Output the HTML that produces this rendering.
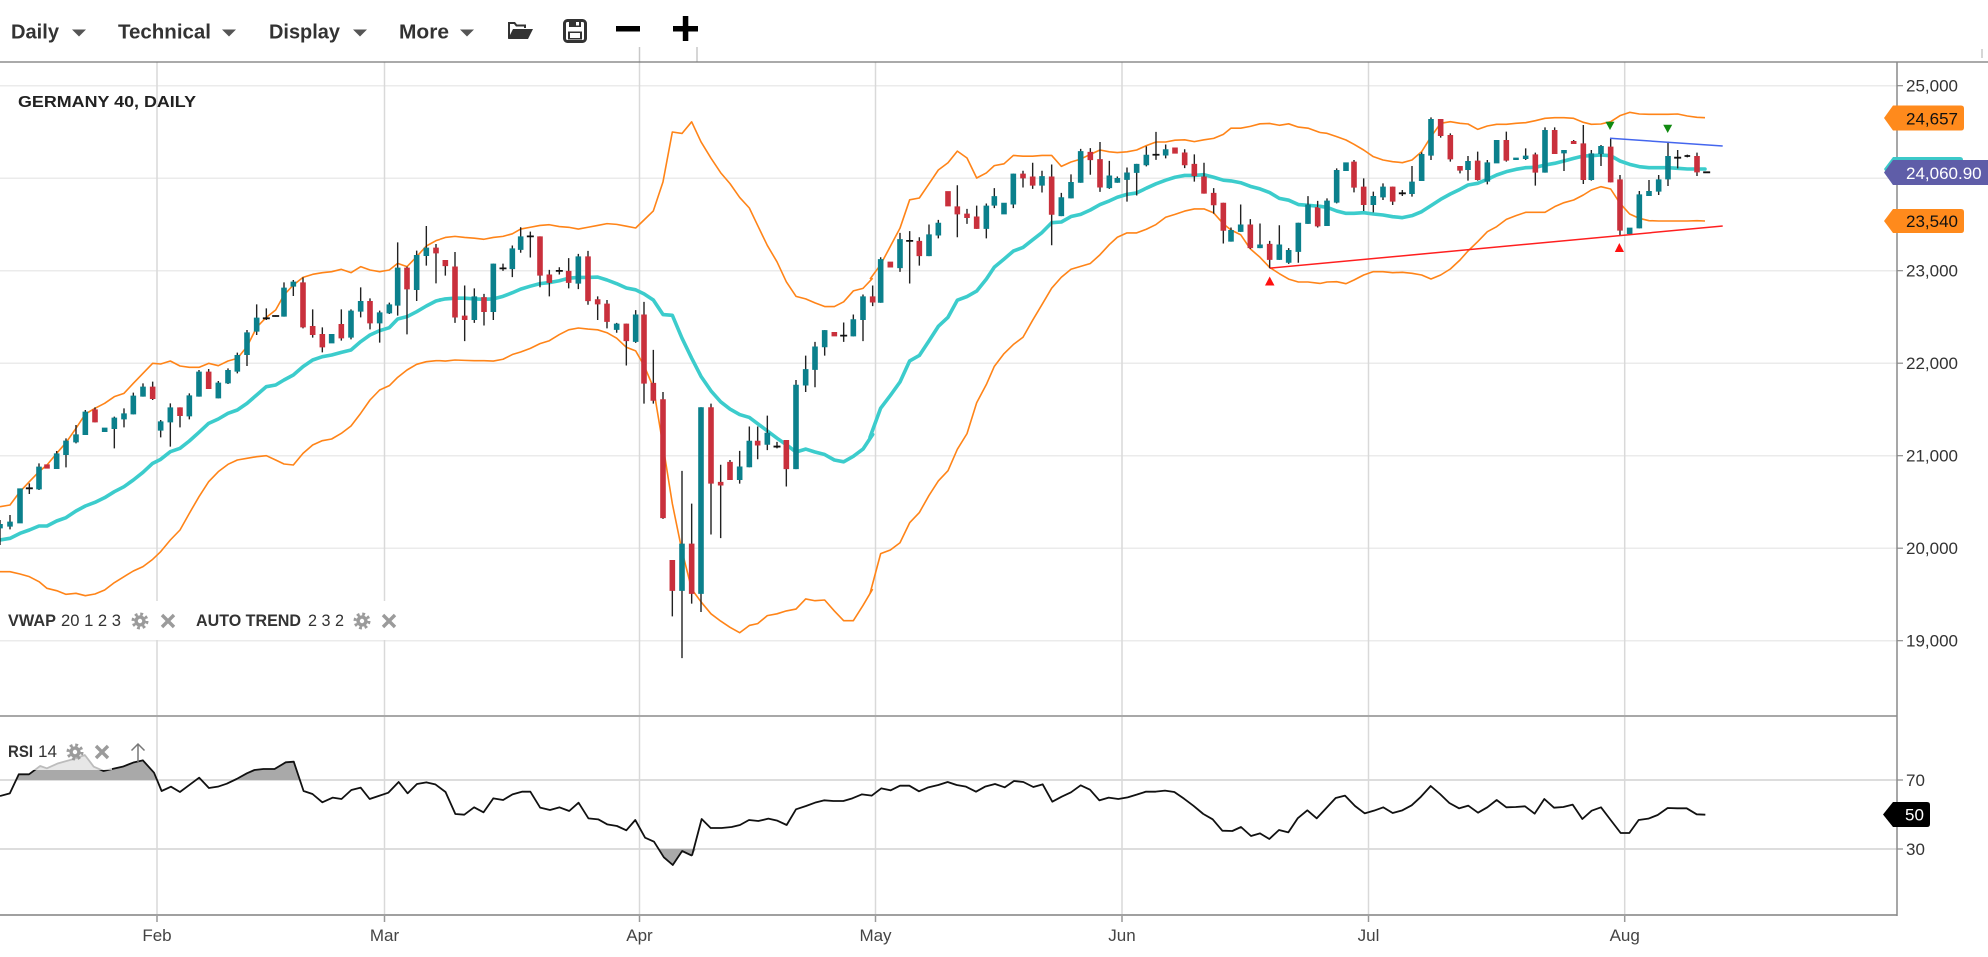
<!DOCTYPE html>
<html>
<head>
<meta charset="utf-8">
<style>
html,body{margin:0;padding:0;background:#fff;}
body{width:1988px;height:952px;overflow:hidden;}
svg text{font-family:"Liberation Sans",sans-serif;}
</style>
</head>
<body>
<svg width="1988" height="952" viewBox="0 0 1988 952" xmlns="http://www.w3.org/2000/svg">
<defs>
  <clipPath id="above"><rect x="0" y="700" width="1897" height="80"/></clipPath>
  <clipPath id="below"><rect x="0" y="849" width="1897" height="66"/></clipPath>
</defs>
<rect x="0" y="0" width="1988" height="952" fill="#fff"/>

<!-- toolbar -->
<g fill="#333" font-weight="bold" font-size="20">
  <text x="11" y="38.5" textLength="48" lengthAdjust="spacingAndGlyphs">Daily</text>
  <text x="118" y="38.5" textLength="93" lengthAdjust="spacingAndGlyphs">Technical</text>
  <text x="269" y="38.5" textLength="71" lengthAdjust="spacingAndGlyphs">Display</text>
  <text x="399" y="38.5" textLength="50" lengthAdjust="spacingAndGlyphs">More</text>
</g>
<g fill="#555">
  <polygon points="72,29.5 86,29.5 79,36.5"/>
  <polygon points="222,29.5 236,29.5 229,36.5"/>
  <polygon points="353,29.5 367,29.5 360,36.5"/>
  <polygon points="460,29.5 474,29.5 467,36.5"/>
</g>
<g fill="#333">
  <path d="M508,22 L515,22 L517,24.5 L526,24.5 L526,28 L524,28 L524,26.5 L516,26.5 L514,24 L510,24 L510,37 L508,38.5 Z"/>
  <path d="M513,29 L533,29 L528,39 L508,39 Z"/>
</g>
<g>
  <rect x="564.5" y="20.5" width="21" height="21" rx="3" fill="none" stroke="#333" stroke-width="3"/>
  <rect x="569" y="21" width="12" height="6" fill="#333"/>
  <rect x="576" y="22" width="3" height="3.5" fill="#fff"/>
  <rect x="568" y="31.5" width="14" height="8" fill="#333"/>
  <rect x="570" y="33" width="10" height="5" fill="#fff"/>
</g>
<rect x="616" y="26" width="24" height="5.5" fill="#000"/>
<rect x="673" y="26" width="25" height="5.5" fill="#000"/>
<rect x="682.8" y="16" width="5.5" height="25" fill="#000"/>
<line x1="639.5" y1="47" x2="639.5" y2="62" stroke="#c8c8c8" stroke-width="1.5"/>
<line x1="697" y1="47" x2="697" y2="62" stroke="#c8c8c8" stroke-width="1.5"/>
<line x1="1982" y1="49" x2="1982" y2="58" stroke="#c8c8c8" stroke-width="1.5"/>

<!-- gridlines -->
<g stroke="#ebebeb" stroke-width="1.5">
  <line x1="0" y1="85.7" x2="1897" y2="85.7"/>
  <line x1="0" y1="178.2" x2="1897" y2="178.2"/>
  <line x1="0" y1="270.7" x2="1897" y2="270.7"/>
  <line x1="0" y1="363.2" x2="1897" y2="363.2"/>
  <line x1="0" y1="455.7" x2="1897" y2="455.7"/>
  <line x1="0" y1="548.2" x2="1897" y2="548.2"/>
  <line x1="0" y1="640.7" x2="1897" y2="640.7"/>
</g>
<g stroke="#d2d2d2" stroke-width="1.5">
  <line x1="0" y1="780" x2="1897" y2="780"/>
  <line x1="0" y1="849" x2="1897" y2="849"/>
</g>
<g stroke="#d9d9d9" stroke-width="1.5">
  <line x1="157" y1="62" x2="157" y2="915"/>
  <line x1="384.5" y1="62" x2="384.5" y2="915"/>
  <line x1="639.5" y1="62" x2="639.5" y2="915"/>
  <line x1="875.5" y1="62" x2="875.5" y2="915"/>
  <line x1="1122" y1="62" x2="1122" y2="915"/>
  <line x1="1368.5" y1="62" x2="1368.5" y2="915"/>
  <line x1="1624.7" y1="62" x2="1624.7" y2="915"/>
</g>
<g stroke="#999" stroke-width="1.5">
  <line x1="157" y1="915" x2="157" y2="922"/>
  <line x1="384.5" y1="915" x2="384.5" y2="922"/>
  <line x1="639.5" y1="915" x2="639.5" y2="922"/>
  <line x1="875.5" y1="915" x2="875.5" y2="922"/>
  <line x1="1122" y1="915" x2="1122" y2="922"/>
  <line x1="1368.5" y1="915" x2="1368.5" y2="922"/>
  <line x1="1624.7" y1="915" x2="1624.7" y2="922"/>
</g>

<rect x="0" y="601" width="402" height="39" fill="#fff"/>

<!-- ===== SEGMENT A ===== -->
<g transform="translate(0,220) scale(0.333333,0.333333)">
  <polyline fill="none" stroke="#ff8418" stroke-width="1.6" vector-effect="non-scaling-stroke" stroke-linejoin="round" points="0,860 30,855 60,815 88,785 117,755 141,735 170,700 198,668 228,625 256,582 285,565 314,550 343,530 372,520 400,490 429,460 458,430 482,432 511,423 540,438 568,442 597,442 626,430 655,437 684,423 712,415 741,380 770,322 799,292 827,270 852,225 880,195 909,172 938,163 967,158 995,155 1024,148 1053,158 1082,140 1110,150 1139,155 1168,150 1193,130 1221,140 1250,110 1279,78 1308,62 1320,58"/>
  <polyline fill="none" stroke="#ff8418" stroke-width="1.6" vector-effect="non-scaling-stroke" stroke-linejoin="round" points="0,1055 30,1055 60,1062 88,1070 117,1085 141,1105 170,1112 198,1123 228,1120 256,1127 285,1122 314,1110 343,1088 372,1070 400,1053 429,1040 458,1018 482,995 511,960 540,930 568,880 597,830 626,785 655,755 684,733 712,720 741,715 770,710 799,707 827,720 852,732 880,735 909,700 938,675 967,662 995,657 1024,640 1053,618 1082,580 1110,540 1139,510 1168,497 1193,472 1221,450 1250,433 1279,425 1308,422 1320,422"/>
  <polyline fill="none" stroke="#3ccccc" stroke-width="3.6" vector-effect="non-scaling-stroke" stroke-linejoin="round" stroke-linecap="round" points="0,960 30,955 60,940 88,930 117,918 141,918 170,903 198,893 228,873 256,858 285,847 314,833 343,815 372,800 400,780 429,757 458,730 482,718 511,695 540,685 568,663 597,637 626,610 655,597 684,580 712,570 741,550 770,525 799,500 827,495 852,480 880,465 909,440 938,420 967,410 995,405 1024,397 1053,390 1082,365 1110,345 1139,332 1168,323 1193,297 1221,290 1250,275 1279,258 1308,243 1320,240"/>
  <path fill="none" stroke="#222" stroke-width="1.4" vector-effect="non-scaling-stroke" d="M0,900V975M30,885V928M88,790V822M117,730V810M170,693V747M198,655V742M228,615V670M256,570V645M285,562V607M343,590V685M372,565V622M400,518V583M429,490V530M458,485V540M482,600V652M511,550V680M540,562V622M568,520V598M597,450V530M626,447V507M655,483V535M684,445V492M712,398V460M741,330V438M770,253V345M799,265V300M827,286V290M852,187V290M880,180V228M909,172V325M938,268V353M967,322V397M1024,268V362M1053,268V358M1082,202V292M1110,235V328M1139,272V368M1168,248V282M1193,67V287M1221,140V343M1250,92V243M1279,18V137M1308,72V190"/>
  <path fill="none" stroke="#111" stroke-width="1.8" vector-effect="non-scaling-stroke" d="M77.5,805h21M788.5,295h21M816.5,288h21"/>
  <path fill="#0b808c" d="M-8.4,912h16.8V925h-16.8zM21.6,905h16.8V920h-16.8zM51.6,805h16.8V910h-16.8zM108.6,740h16.8V808h-16.8zM161.6,700h16.8V747h-16.8zM189.6,662h16.8V705h-16.8zM219.6,643h16.8V667h-16.8zM247.6,575h16.8V645h-16.8zM305.6,623h16.8V636h-16.8zM334.6,593h16.8V627h-16.8zM363.6,580h16.8V598h-16.8zM391.6,527h16.8V583h-16.8zM420.6,500h16.8V530h-16.8zM473.6,604h16.8V632h-16.8zM502.6,562h16.8V607h-16.8zM559.6,526h16.8V589h-16.8zM588.6,455h16.8V530h-16.8zM646.6,488h16.8V535h-16.8zM675.6,450h16.8V490h-16.8zM703.6,405h16.8V455h-16.8zM732.6,337h16.8V405h-16.8zM761.6,293h16.8V335h-16.8zM843.6,203h16.8V290h-16.8zM871.6,185h16.8V200h-16.8zM986.6,342h16.8V370h-16.8zM1044.6,272h16.8V353h-16.8zM1073.6,243h16.8V275h-16.8zM1130.6,277h16.8V310h-16.8zM1159.6,253h16.8V280h-16.8zM1184.6,143h16.8V257h-16.8zM1241.6,105h16.8V210h-16.8zM1270.6,83h16.8V108h-16.8z"/>
  <path fill="#c9303c" d="M132.6,733h16.8V746h-16.8zM276.6,568h16.8V607h-16.8zM449.6,500h16.8V537h-16.8zM531.6,562h16.8V588h-16.8zM617.6,455h16.8V507h-16.8zM900.6,187h16.8V322h-16.8zM929.6,318h16.8V345h-16.8zM958.6,342h16.8V382h-16.8zM1015.6,312h16.8V355h-16.8zM1101.6,243h16.8V310h-16.8zM1212.6,143h16.8V208h-16.8zM1299.6,83h16.8V100h-16.8z"/>
</g>

<!-- ===== SEGMENT B ===== -->
<g transform="translate(430,100) scale(0.333333,0.363636)">
  <polyline fill="none" stroke="#ff8418" stroke-width="1.6" vector-effect="non-scaling-stroke" stroke-linejoin="round" points="30,383 46,378 75,375 104,378 133,380 162,383 190,378 219,375 247,368 272,355 301,350 330,345 358,343 388,348 416,350 445,355 474,350 503,345 531,340 560,342 589,347 617,352 642,330 670,305 699,225 727,88 756,92 785,60 813,115 843,160 872,200 900,230 929,268 958,297 983,345 1012,400 1041,445 1069,500 1098,540 1127,547 1155,558 1184,568 1213,568 1241,555 1270,525 1299,518 1328,490"/>
  <polyline fill="none" stroke="#ff8418" stroke-width="1.6" vector-effect="non-scaling-stroke" stroke-linejoin="round" points="30,717 46,718 75,715 104,716 133,717 162,717 190,718 219,713 247,700 272,693 301,683 330,670 358,662 388,645 416,632 445,627 474,630 503,632 531,640 560,655 589,680 617,690 642,730 670,790 699,950 727,1110 756,1240 785,1345 813,1380 843,1413 872,1433 900,1450 929,1465 958,1445 983,1440 1012,1418 1041,1413 1069,1405 1098,1400 1127,1372 1155,1377 1184,1375 1213,1405 1241,1432 1270,1432 1299,1390 1328,1345"/>
  <polyline fill="none" stroke="#3ccccc" stroke-width="3.6" vector-effect="non-scaling-stroke" stroke-linejoin="round" stroke-linecap="round" points="30,550 46,547 75,545 104,545 133,547 162,548 190,547 219,540 247,530 272,520 301,512 330,505 358,502 388,497 416,490 445,488 474,488 503,487 531,495 560,505 589,517 617,522 642,533 670,550 699,590 727,592 756,655 785,710 813,760 843,800 872,830 900,850 929,865 958,873 983,890 1012,910 1041,930 1069,948 1098,968 1127,960 1155,968 1184,975 1213,990 1241,995 1270,980 1299,960 1328,920"/>
  <path fill="none" stroke="#222" stroke-width="1.4" vector-effect="non-scaling-stroke" d="M46,440V483M75,418V613M104,510V663M133,518V613M162,533V620M190,450V605M219,450V470M247,400V487M272,350V420M301,362V433M330,375V515M358,467V540M388,460V480M416,435V518M445,423V520M474,415V563M503,540V605M531,550V628M560,613V640M589,615V730M617,578V668M642,555V835M670,687V835M699,803V1152M727,1265V1420M756,1020V1535M785,1110V1385M813,845V1408M843,835V1195M872,1003V1205M900,990V1045M929,965V1055M958,898V1010M983,898V988M1012,868V963M1041,940V958M1069,935V1063M1098,770V1015M1127,703V803M1155,665V790M1184,633V703M1241,612V665M1270,590V650M1299,535V663M1328,510V567"/>
  <path fill="none" stroke="#111" stroke-width="1.8" vector-effect="non-scaling-stroke" d="M208.5,463h21M290.5,375h21M377.5,470h21M1030.5,953h21M1230.5,648h21"/>
  <path fill="#0b808c" d="M124.6,540h16.8V605h-16.8zM181.6,450h16.8V583h-16.8zM238.6,408h16.8V465h-16.8zM263.6,375h16.8V412h-16.8zM436.6,430h16.8V505h-16.8zM551.6,615h16.8V632h-16.8zM608.6,590h16.8V665h-16.8zM747.6,1220h16.8V1350h-16.8zM804.6,845h16.8V1358h-16.8zM920.6,1008h16.8V1045h-16.8zM949.6,937h16.8V1010h-16.8zM1003.6,915h16.8V948h-16.8zM1089.6,783h16.8V1015h-16.8zM1118.6,740h16.8V785h-16.8zM1146.6,678h16.8V742h-16.8zM1175.6,633h16.8V680h-16.8zM1261.6,603h16.8V650h-16.8zM1290.6,540h16.8V605h-16.8z"/>
  <path fill="#c9303c" d="M37.6,440h16.8V457h-16.8zM66.6,458h16.8V598h-16.8zM95.6,593h16.8V605h-16.8zM153.6,542h16.8V583h-16.8zM321.6,375h16.8V483h-16.8zM349.6,480h16.8V503h-16.8zM407.6,470h16.8V503h-16.8zM465.6,430h16.8V553h-16.8zM494.6,548h16.8V562h-16.8zM522.6,560h16.8V610h-16.8zM580.6,615h16.8V663h-16.8zM633.6,590h16.8V780h-16.8zM661.6,778h16.8V827h-16.8zM690.6,823h16.8V1150h-16.8zM718.6,1265h16.8V1350h-16.8zM776.6,1220h16.8V1358h-16.8zM834.6,845h16.8V1055h-16.8zM863.6,1050h16.8V1060h-16.8zM891.6,995h16.8V1045h-16.8zM974.6,937h16.8V950h-16.8zM1060.6,935h16.8V1015h-16.8zM1204.6,638h16.8V650h-16.8zM1319.6,540h16.8V557h-16.8z"/>
</g>

<!-- ===== SEGMENT C ===== -->
<g transform="translate(870,90) scale(0.333333,0.363636)">
  <polyline fill="none" stroke="#ff8418" stroke-width="1.6" vector-effect="non-scaling-stroke" stroke-linejoin="round" points="0,520 32,480 61,430 90,380 119,302 148,297 177,258 205,220 234,200 262,168 291,187 320,242 349,228 373,208 402,203 430,180 459,182 488,182 516,180 545,180 574,210 603,198 632,190 661,177 690,165 718,170 742,172 771,170 800,165 829,153 858,143 887,143 915,138 944,137 973,142 1002,137 1031,133 1060,122 1083,105 1112,105 1141,100 1170,93 1199,92 1228,97 1256,93 1285,102 1314,105 1350,117"/>
  <polyline fill="none" stroke="#ff8418" stroke-width="1.6" vector-effect="non-scaling-stroke" stroke-linejoin="round" points="0,1385 32,1275 61,1265 90,1245 119,1190 148,1162 177,1115 205,1075 234,1047 262,988 291,945 320,860 349,810 373,760 402,725 430,700 459,680 488,633 516,590 545,545 574,515 603,493 632,485 661,477 690,453 718,425 742,405 771,393 800,393 829,383 858,370 887,350 915,342 944,333 973,327 1002,327 1031,338 1060,368 1083,385 1112,398 1141,437 1170,460 1199,488 1228,505 1256,520 1285,528 1314,528 1350,532"/>
  <polyline fill="none" stroke="#3ccccc" stroke-width="3.6" vector-effect="non-scaling-stroke" stroke-linejoin="round" stroke-linecap="round" points="0,955 32,875 61,840 90,803 119,745 148,730 177,690 205,650 234,625 262,578 291,568 320,553 349,520 373,487 402,465 430,443 459,433 488,412 516,392 545,365 574,363 603,348 632,342 661,330 690,315 718,305 742,295 771,287 800,283 829,270 858,258 887,248 915,240 944,235 973,235 1002,233 1031,240 1060,248 1083,250 1112,255 1141,265 1170,272 1199,282 1228,298 1256,303 1285,315 1314,317 1350,320"/>
  <path fill="none" stroke="#222" stroke-width="1.4" vector-effect="non-scaling-stroke" d="M32,460V585M90,393V500M119,388V532M148,405V483M177,370V457M205,357V408M262,262V405M291,327V368M320,318V382M349,312V408M373,270V325M430,230V325M459,222V268M488,200V272M516,222V282M545,205V427M574,283V347M603,232V298M632,162V255M661,160V233M690,143V280M718,195V272M742,238V255M771,213V307M800,203V290M829,155V210M858,115V192M887,150V188M944,163V215M973,177V252M1002,200V285M1031,270V340M1060,310V422M1083,378V417M1112,315V390M1141,355V437M1170,367V435M1199,415V490M1228,372V467M1256,435V478M1285,365V475M1314,292V368M1343,305V378"/>
  <path fill="none" stroke="#111" stroke-width="1.8" vector-effect="non-scaling-stroke" d="M108.5,415h21M847.5,178h21"/>
  <path fill="#0b808c" d="M23.6,465h16.8V585h-16.8zM81.6,410h16.8V490h-16.8zM168.6,397h16.8V457h-16.8zM196.6,365h16.8V400h-16.8zM340.6,318h16.8V382h-16.8zM364.6,292h16.8V318h-16.8zM393.6,310h16.8V342h-16.8zM421.6,230h16.8V315h-16.8zM507.6,237h16.8V263h-16.8zM565.6,295h16.8V347h-16.8zM594.6,253h16.8V298h-16.8zM623.6,168h16.8V255h-16.8zM709.6,235h16.8V270h-16.8zM733.6,242h16.8V255h-16.8zM762.6,227h16.8V247h-16.8zM791.6,203h16.8V228h-16.8zM820.6,178h16.8V207h-16.8zM878.6,163h16.8V180h-16.8zM1074.6,385h16.8V417h-16.8zM1103.6,370h16.8V390h-16.8zM1161.6,425h16.8V435h-16.8zM1219.6,425h16.8V467h-16.8zM1247.6,440h16.8V475h-16.8zM1276.6,365h16.8V445h-16.8zM1305.6,315h16.8V368h-16.8z"/>
  <path fill="#c9303c" d="M52.6,472h16.8V488h-16.8zM139.6,415h16.8V457h-16.8zM225.6,278h16.8V320h-16.8zM253.6,320h16.8V342h-16.8zM282.6,340h16.8V352h-16.8zM311.6,348h16.8V382h-16.8zM450.6,230h16.8V243h-16.8zM479.6,238h16.8V263h-16.8zM536.6,238h16.8V343h-16.8zM652.6,170h16.8V193h-16.8zM681.6,190h16.8V268h-16.8zM906.6,158h16.8V175h-16.8zM935.6,172h16.8V207h-16.8zM964.6,203h16.8V237h-16.8zM993.6,238h16.8V285h-16.8zM1022.6,283h16.8V317h-16.8zM1051.6,310h16.8V387h-16.8zM1132.6,370h16.8V435h-16.8zM1190.6,423h16.8V467h-16.8zM1334.6,322h16.8V375h-16.8z"/>
</g>

<!-- ===== SEGMENT D ===== -->
<g transform="translate(1300,90) scale(0.333333,0.333333)">
  <polyline fill="none" stroke="#ff8418" stroke-width="1.6" vector-effect="non-scaling-stroke" stroke-linejoin="round" points="60,127.5 81,130 110,140 138,150 162,163 191,180 220,200 249,210 278,215 307,218 336,210 365,185 393,140 422,100 451,95 480,100 504,102 533,118 562,108 590,103 619,103 648,100 677,98 706,92 735,85 764,83 792,83 821,85 850,97 874,103 903,102 932,95 960,77 989,67 1018,72 1047,73 1076,73 1104,73 1133,72 1162,78 1191,82 1215,83"/>
  <polyline fill="none" stroke="#ff8418" stroke-width="1.6" vector-effect="non-scaling-stroke" stroke-linejoin="round" points="60,580.5 81,576 110,575 138,581 162,570 191,555 220,545 249,545 278,548 307,547 336,550 365,555 393,567 422,555 451,537 480,510 504,483 533,455 562,425 590,410 619,388 648,377 677,367 706,367 735,367 764,350 792,338 821,330 850,315 874,300 903,290 932,297 960,340 989,372 1018,385 1047,392 1076,393 1104,393 1133,393 1162,393 1191,392 1215,393"/>
  <polyline fill="none" stroke="#3ccccc" stroke-width="3.6" vector-effect="non-scaling-stroke" stroke-linejoin="round" stroke-linecap="round" points="60,349 81,352 110,363 138,370 162,370 191,368 220,372 249,375 278,380 307,383 336,377 365,365 393,347 422,328 451,312 480,298 504,285 533,280 562,268 590,255 619,245 648,238 677,233 706,232 735,225 764,220 792,213 821,205 850,198 874,197 903,195 932,197 960,213 989,223 1018,230 1047,233 1076,233 1104,233 1133,235 1162,237 1191,237 1215,237"/>
  <path fill="none" stroke="#222" stroke-width="1.4" vector-effect="non-scaling-stroke" d="M81,325V408M110,235V340M162,210V307M191,265V363M220,305V367M249,280V330M278,290V345M307,300V318M336,228V320M365,187V273M393,82V210M422,87V143M451,130V215M480,228V250M504,198V272M533,185V272M562,210V283M619,125V215M677,175V210M706,188V287M735,112V248M764,112V192M792,180V243M821,150V162M850,105V282M874,180V272M903,165V228M932,145V277M960,255V437M1018,303V415M1047,270V318M1076,255V315M1104,155V288M1133,180V235M1162,194V202M1191,188V258"/>
  <path fill="none" stroke="#111" stroke-width="1.8" vector-effect="non-scaling-stroke" d="M296.5,310h21M1122.5,203h21M1153.5,198h17M1209.5,247h21"/>
  <path fill="#0b808c" d="M72.6,332h16.8V408h-16.8zM101.6,240h16.8V338h-16.8zM129.6,217h16.8V243h-16.8zM211.6,318h16.8V345h-16.8zM240.6,290h16.8V322h-16.8zM327.6,275h16.8V312h-16.8zM356.6,192h16.8V273h-16.8zM384.6,87h16.8V197h-16.8zM495.6,213h16.8V240h-16.8zM553.6,217h16.8V275h-16.8zM581.6,150h16.8V220h-16.8zM639.6,203h16.8V210h-16.8zM668.6,197h16.8V207h-16.8zM726.6,120h16.8V248h-16.8zM783.6,180h16.8V190h-16.8zM865.6,190h16.8V270h-16.8zM894.6,168h16.8V192h-16.8zM980.6,413h16.8V432h-16.8zM1009.6,313h16.8V415h-16.8zM1038.6,303h16.8V318h-16.8zM1067.6,268h16.8V305h-16.8zM1095.6,198h16.8V268h-16.8z"/>
  <path fill="#c9303c" d="M153.6,215h16.8V293h-16.8zM182.6,290h16.8V345h-16.8zM269.6,290h16.8V335h-16.8zM413.6,87h16.8V138h-16.8zM442.6,135h16.8V208h-16.8zM471.6,228h16.8V242h-16.8zM524.6,212h16.8V270h-16.8zM610.6,150h16.8V212h-16.8zM697.6,193h16.8V248h-16.8zM755.6,120h16.8V192h-16.8zM812.6,153h16.8V162h-16.8zM841.6,160h16.8V270h-16.8zM923.6,170h16.8V277h-16.8zM951.6,268h16.8V422h-16.8zM1182.6,198h16.8V247h-16.8z"/>
</g>

<!-- ===== RSI ===== -->
<g clip-path="url(#above)">
  <path transform="translate(0,580) scale(0.446429,0.333333)" fill="#a9a9a9" d="M0,600 L0,648 22,640 42,583 65,583 80,568 90,558 105,565 130,550 165,537 190,525 210,560 232,573 255,566 275,560 300,547 320,541 345,578 362,633 383,620 403,636 425,614 446,593 468,624 488,620 508,611 530,597 553,580 570,570 590,567 615,567 640,547 658,545 680,633 700,642 722,667 745,653 765,657 787,630 808,623 828,657 848,648 870,638 893,606 913,640 934,612 955,607 975,613 998,636 1020,702 1040,704 1062,682 1083,697 1105,655 1127,660 1148,643 1170,635 1188,635 1210,683 1232,690 1253,682 1275,693 1296,668 1318,715 1340,718 1360,733 1382,738 1403,751 1423,720 1445,773 1465,785 1487,832 1507,855 1528,813 1550,827 L1550,600 Z"/>
</g>
<g clip-path="url(#below)">
  <path transform="translate(0,580) scale(0.446429,0.333333)" fill="#a9a9a9" d="M0,807 L0,648 22,640 42,583 65,583 80,568 90,558 105,565 130,550 165,537 190,525 210,560 232,573 255,566 275,560 300,547 320,541 345,578 362,633 383,620 403,636 425,614 446,593 468,624 488,620 508,611 530,597 553,580 570,570 590,567 615,567 640,547 658,545 680,633 700,642 722,667 745,653 765,657 787,630 808,623 828,657 848,648 870,638 893,606 913,640 934,612 955,607 975,613 998,636 1020,702 1040,704 1062,682 1083,697 1105,655 1127,660 1148,643 1170,635 1188,635 1210,683 1232,690 1253,682 1275,693 1296,668 1318,715 1340,718 1360,733 1382,738 1403,751 1423,720 1445,773 1465,785 1487,832 1507,855 1528,813 1550,827 L1572,777 L1572,807 Z"/>
</g>
<polyline transform="translate(0,580) scale(0.446429,0.333333)" fill="none" stroke="#111" stroke-width="1.8" vector-effect="non-scaling-stroke" stroke-linejoin="round" points="0,648 22,640 42,583 65,583 80,568 90,558 105,565 130,550 165,537 190,525 210,560 232,573 255,566 275,560 300,547 320,541 345,578 362,633 383,620 403,636 425,614 446,593 468,624 488,620 508,611 530,597 553,580 570,570 590,567 615,567 640,547 658,545 680,633 700,642 722,667 745,653 765,657 787,630 808,623 828,657 848,648 870,638 893,606 913,640 934,612 955,607 975,613 998,636 1020,702 1040,704 1062,682 1083,697 1105,655 1127,660 1148,643 1170,635 1188,635 1210,683 1232,690 1253,682 1275,693 1296,668 1318,715 1340,718 1360,733 1382,738 1403,751 1423,720 1445,773 1465,785 1487,832 1507,855 1528,813 1550,827"/>
<polyline transform="translate(690,730) scale(0.333333,0.333333)" fill="none" stroke="#111" stroke-width="1.8" vector-effect="non-scaling-stroke" stroke-linejoin="round" points="6,377 35,267 62,294 95,294 125,291 150,285 177,270 205,273 235,266 262,272 290,285 318,238 348,228 375,218 402,211 430,213 460,213 487,205 516,193 545,197 574,175 602,181 630,167 658,167 687,184 715,172 745,165 773,156 800,165 828,170 858,185 885,170 915,162 944,172 972,153 1000,156 1030,171 1058,163 1087,215 1115,200 1143,187 1172,166 1200,179 1228,211 1256,203 1285,207 1313,202 1340,194 1368,185 1397,185 1425,182 1453,186 1482,206 1510,227 1540,252"/>
<polyline transform="translate(1200,730) scale(0.333333,0.333333)" fill="none" stroke="#111" stroke-width="1.8" vector-effect="non-scaling-stroke" stroke-linejoin="round" points="10,252 38,268 67,302 97,303 123,291 153,318 180,310 208,327 237,300 265,307 293,265 322,241 350,265 378,235 407,204 435,197 465,228 494,250 522,242 550,232 578,249 607,241 635,226 663,200 692,168 720,192 748,219 777,235 805,227 834,248 862,232 890,210 919,232 947,231 975,229 1004,251 1033,207 1062,233 1090,231 1118,224 1147,267 1175,242 1203,232 1232,270 1262,309 1288,309 1316,270 1345,266 1373,255 1403,234 1432,235 1460,235 1490,253 1516,254"/>

<!-- RSI legend -->
<rect x="0" y="737" width="112" height="33" fill="#fff" fill-opacity="0.72"/>
<text x="8" y="757" font-size="17" font-weight="bold" fill="#333" textLength="25" lengthAdjust="spacingAndGlyphs">RSI</text>
<text x="38" y="757" font-size="17" fill="#333" textLength="19" lengthAdjust="spacingAndGlyphs">14</text>
<line x1="138" y1="744" x2="138" y2="762" stroke="#777" stroke-width="1.5"/>
<polyline points="131.5,750.5 138,744 144.5,750.5" fill="none" stroke="#777" stroke-width="1.5"/>

<!-- trend lines & markers -->
<line x1="1269.7" y1="268.2" x2="1722.7" y2="226" stroke="#ff1f1f" stroke-width="1.5"/>
<line x1="1610" y1="138.3" x2="1722.7" y2="146" stroke="#4466ee" stroke-width="1.5"/>
<polygon points="1265,285.5 1274.5,285.5 1269.7,276.5" fill="#ff1010"/>
<polygon points="1614.8,252 1624,252 1619.3,243" fill="#ff1010"/>
<polygon points="1605.5,121.7 1614.5,121.7 1610,130" fill="#118a11"/>
<polygon points="1663.2,124.7 1672.2,124.7 1667.7,133" fill="#118a11"/>

<!-- frame lines -->
<line x1="0" y1="62" x2="1988" y2="62" stroke="#777" stroke-width="1.2"/>
<line x1="0" y1="716" x2="1897" y2="716" stroke="#a8a8a8" stroke-width="2"/>
<line x1="0" y1="915" x2="1897" y2="915" stroke="#a0a0a0" stroke-width="2"/>
<line x1="1897" y1="62" x2="1897" y2="916" stroke="#8a8a8a" stroke-width="1.5"/>
<g stroke="#8a8a8a" stroke-width="1.2">
  <line x1="1897" y1="85.7" x2="1903" y2="85.7"/>
  <line x1="1897" y1="270.7" x2="1903" y2="270.7"/>
  <line x1="1897" y1="363.2" x2="1903" y2="363.2"/>
  <line x1="1897" y1="455.7" x2="1903" y2="455.7"/>
  <line x1="1897" y1="548.2" x2="1903" y2="548.2"/>
  <line x1="1897" y1="640.7" x2="1903" y2="640.7"/>
  <line x1="1897" y1="780" x2="1903" y2="780"/>
  <line x1="1897" y1="849" x2="1903" y2="849"/>
</g>

<g fill="#333" font-size="17">
  <text x="1906" y="91.7">25,000</text>
  <text x="1906" y="276.7">23,000</text>
  <text x="1906" y="369.2">22,000</text>
  <text x="1906" y="461.7">21,000</text>
  <text x="1906" y="554.2">20,000</text>
  <text x="1906" y="646.7">19,000</text>
  <text x="1906" y="786">70</text>
  <text x="1906" y="855">30</text>
</g>
<g fill="#444" font-size="17" text-anchor="middle">
  <text x="157" y="941">Feb</text>
  <text x="384.5" y="941">Mar</text>
  <text x="639.5" y="941">Apr</text>
  <text x="875.5" y="941">May</text>
  <text x="1122" y="941">Jun</text>
  <text x="1368.5" y="941">Jul</text>
  <text x="1624.7" y="941">Aug</text>
</g>

<!-- price tags -->
<path d="M1884,118 L1893,105.5 L1961,105.5 Q1964,105.5 1964,108.5 L1964,127.5 Q1964,130.5 1961,130.5 L1893,130.5 Z" fill="#ff8a1c"/>
<text x="1906" y="124.5" font-size="17" fill="#111">24,657</text>
<path d="M1884,169 L1893,157 L1960,157 Q1963,157 1963,160 L1963,185 L1893,185 Z" fill="#3cc9c9"/>
<path d="M1884,172.5 L1893,160 L1988,160 L1988,185 L1893,185 Z" fill="#5f5da8"/>
<text x="1906" y="179" font-size="17" fill="#fff">24,060.90</text>
<path d="M1884,221 L1893,209 L1961,209 Q1964,209 1964,212 L1964,230 Q1964,233 1961,233 L1893,233 Z" fill="#ff8a1c"/>
<text x="1906" y="227" font-size="17" fill="#111">23,540</text>
<path d="M1883,814.5 L1893,802 L1927,802 Q1930,802 1930,805 L1930,824 Q1930,827 1927,827 L1893,827 Z" fill="#000"/>
<text x="1905" y="820.5" font-size="17" fill="#fff">50</text>

<text x="18" y="107" font-size="16" font-weight="bold" fill="#222" textLength="178" lengthAdjust="spacingAndGlyphs">GERMANY 40, DAILY</text>

<g font-size="17" fill="#333">
  <text x="8" y="626" font-weight="bold" textLength="48" lengthAdjust="spacingAndGlyphs">VWAP</text>
  <text x="61" y="626" textLength="60" lengthAdjust="spacingAndGlyphs">20 1 2 3</text>
  <text x="196" y="626" font-weight="bold" textLength="105" lengthAdjust="spacingAndGlyphs">AUTO TREND</text>
  <text x="308" y="626" textLength="36" lengthAdjust="spacingAndGlyphs">2 3 2</text>
</g>

<!-- gear & close icons -->
<g>
  <circle cx="140" cy="621" r="5.6" fill="#9b9b9b"/>
  <circle cx="140" cy="621" r="7" fill="none" stroke="#9b9b9b" stroke-width="3" stroke-dasharray="2.8 2.7"/>
  <circle cx="140" cy="621" r="2.2" fill="#fff"/>
  <line x1="162" y1="615" x2="174" y2="627" stroke="#9b9b9b" stroke-width="3.4"/>
  <line x1="162" y1="627" x2="174" y2="615" stroke="#9b9b9b" stroke-width="3.4"/>

  <circle cx="362" cy="621" r="5.6" fill="#9b9b9b"/>
  <circle cx="362" cy="621" r="7" fill="none" stroke="#9b9b9b" stroke-width="3" stroke-dasharray="2.8 2.7"/>
  <circle cx="362" cy="621" r="2.2" fill="#fff"/>
  <line x1="383" y1="615" x2="395" y2="627" stroke="#9b9b9b" stroke-width="3.4"/>
  <line x1="383" y1="627" x2="395" y2="615" stroke="#9b9b9b" stroke-width="3.4"/>

  <circle cx="75" cy="752" r="5.6" fill="#9b9b9b"/>
  <circle cx="75" cy="752" r="7" fill="none" stroke="#9b9b9b" stroke-width="3" stroke-dasharray="2.8 2.7"/>
  <circle cx="75" cy="752" r="2.2" fill="#fff"/>
  <line x1="96" y1="746" x2="108" y2="758" stroke="#9b9b9b" stroke-width="3.4"/>
  <line x1="96" y1="758" x2="108" y2="746" stroke="#9b9b9b" stroke-width="3.4"/>
</g>
</svg>
</body>
</html>
